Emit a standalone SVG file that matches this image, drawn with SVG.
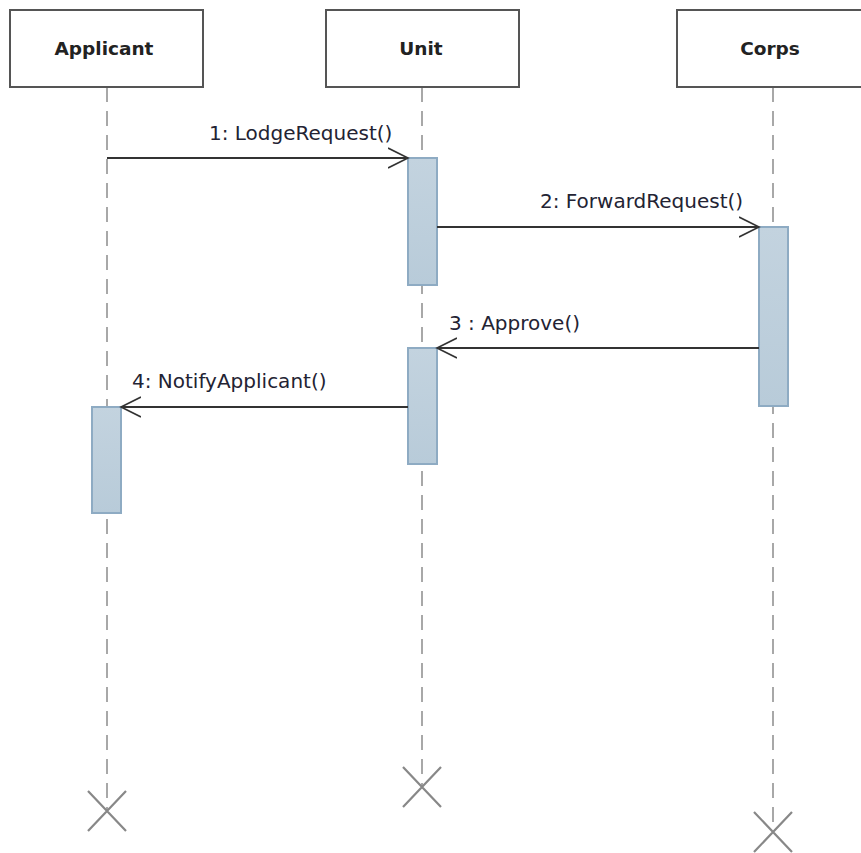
<svg xmlns="http://www.w3.org/2000/svg" width="861" height="853" viewBox="0 0 861 853">
  <defs>
    <linearGradient id="actFill" x1="0" y1="0" x2="0" y2="1">
      <stop offset="0" stop-color="#c3d3df"/>
      <stop offset="1" stop-color="#b8cbd9"/>
    </linearGradient>
    <marker id="open" viewBox="0 0 24 24" refX="20" refY="12" markerWidth="24" markerHeight="24" markerUnits="userSpaceOnUse" orient="auto">
      <path d="M0,2 L20,12 L0,22" fill="none" stroke="#333" stroke-width="1.6"/>
    </marker>
  </defs>
  <style>
    .head { fill: #fff; stroke: #555; stroke-width: 2; }
    .htxt { font-family: "DejaVu Sans", Verdana, sans-serif; font-size: 18.5px; font-weight: bold; fill: #222; text-anchor: middle; }
    .life { stroke: #a8a8a8; stroke-width: 2; stroke-dasharray: 15 9; fill: none; }
    .act { fill: url(#actFill); stroke: #8eabc3; stroke-width: 2; }
    .msg { stroke: #333; stroke-width: 2; fill: none; marker-end: url(#open); }
    .mtxt { font-family: "DejaVu Sans", Verdana, sans-serif; font-size: 20px; fill: #232333; }
    .end { stroke: #888; stroke-width: 2.2; fill: none; }
  </style>
  <rect width="861" height="853" fill="#fff"/>

  <!-- Applicant lifeline -->
  <g id="applicant">
    <line class="life" x1="107" y1="87" x2="107" y2="811"/>
    <rect class="head" x="10" y="10" width="193" height="77"/>
    <text class="htxt" x="104" y="55">Applicant</text>
    <rect class="act" x="92" y="407" width="29" height="106"/>
    <path class="end" d="M88,791 L126,831 M126,791 L88,831"/>
  </g>

  <!-- Unit lifeline -->
  <g id="unit">
    <line class="life" x1="422" y1="87" x2="422" y2="787"/>
    <rect class="head" x="326" y="10" width="193" height="77"/>
    <text class="htxt" x="421" y="55">Unit</text>
    <rect class="act" x="408" y="158" width="29" height="127"/>
    <rect class="act" x="408" y="348" width="29" height="116"/>
    <path class="end" d="M403,767 L441,807 M441,767 L403,807"/>
  </g>

  <!-- Corps lifeline -->
  <g id="corps">
    <line class="life" x1="773" y1="87" x2="773" y2="832"/>
    <rect class="head" x="677" y="10" width="194" height="77"/>
    <text class="htxt" x="770" y="55">Corps</text>
    <rect class="act" x="759" y="227" width="29" height="179"/>
    <path class="end" d="M754,812 L792,852 M792,812 L754,852"/>
  </g>

  <!-- Messages -->
  <g id="messages">
    <line class="msg" x1="107" y1="158" x2="408" y2="158"/>
    <text class="mtxt" x="209" y="140">1: LodgeRequest()</text>

    <line class="msg" x1="437" y1="227" x2="759" y2="227"/>
    <text class="mtxt" x="540" y="208">2: ForwardRequest()</text>

    <line class="msg" x1="759" y1="348" x2="437" y2="348"/>
    <text class="mtxt" x="449" y="330">3 : Approve()</text>

    <line class="msg" x1="408" y1="407" x2="121" y2="407"/>
    <text class="mtxt" x="132" y="388">4: NotifyApplicant()</text>
  </g>
</svg>
